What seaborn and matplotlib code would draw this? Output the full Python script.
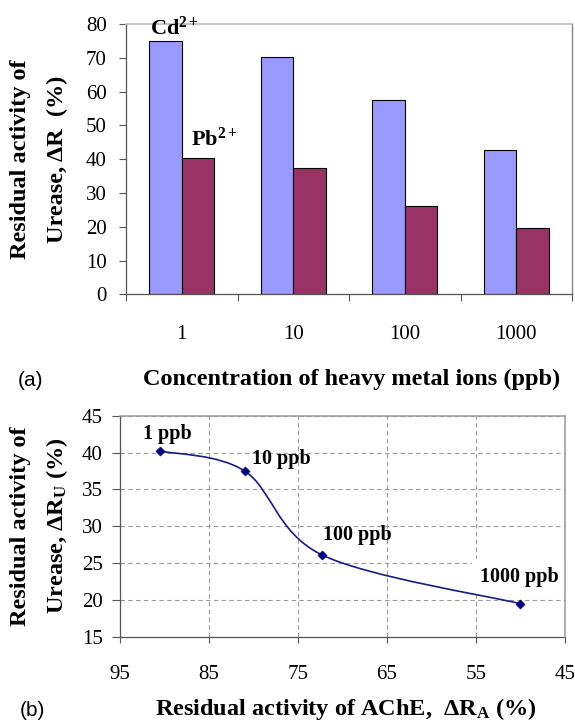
import matplotlib
matplotlib.use("Agg")
import matplotlib.pyplot as plt
import seaborn as sns
import pandas as pd
import numpy as np
from matplotlib.path import Path
from matplotlib.patches import PathPatch

# ---------------- data ----------------
conc_labels = ["1", "10", "100", "1000"]
ions = ["Cd", "Pb"]
cd_values = [75.0, 70.1, 57.4, 42.8]
pb_values = [40.2, 37.5, 26.1, 19.5]
bar_colors = ["#9999FF", "#993366"]

ache_values = [90.5, 81.0, 72.3, 50.1]
urease_values = [40.2, 37.5, 26.1, 19.5]
point_labels = ["1 ppb", "10 ppb", "100 ppb", "1000 ppb"]

top_yticks = list(range(0, 81, 10))
bot_xticks = [95, 85, 75, 65, 55, 45]
bot_yticks = [15, 20, 25, 30, 35, 40, 45]

# ---------------- style ----------------
plt.rcParams["font.family"] = ["Liberation Serif", "DejaVu Serif"]
plt.rcParams["mathtext.fontset"] = "custom"
plt.rcParams["mathtext.rm"] = "Liberation Serif:bold"
plt.rcParams["mathtext.it"] = "Liberation Serif:bold"
plt.rcParams["mathtext.bf"] = "Liberation Serif:bold"
plt.rcParams["mathtext.default"] = "rm"

W, H = 575, 721
fig = plt.figure(figsize=(W / 100, H / 100), dpi=100)
fig.patch.set_facecolor("white")


def fx(x):
    return x / W


def fy(y):
    return 1 - y / H


def rect(l, t, r, b):
    return [fx(l), fy(b), fx(r) - fx(l), fy(t) - fy(b)]


# ---------------- top: bar chart ----------------
ax1 = fig.add_axes(rect(126, 24, 572, 294.3))
df = pd.DataFrame({
    "conc": conc_labels * 2,
    "ion": [ions[0]] * 4 + [ions[1]] * 4,
    "val": cd_values + pb_values,
})
sns.barplot(data=df, x="conc", y="val", hue="ion", order=conc_labels,
            hue_order=ions, palette=bar_colors, width=0.58, saturation=1,
            edgecolor="black", linewidth=0.8, legend=False, ax=ax1)
ax1.set_xlim(-0.5, 3.5)
ax1.set_ylim(0, 80)
ax1.set_yticks(top_yticks)
ax1.set_xticks([-0.5, 0.5, 1.5, 2.5, 3.5], minor=True)
ax1.set_xlabel("")
ax1.set_ylabel("")
ax1.tick_params(axis="x", which="major", length=0, pad=22, labelsize=15)
ax1.tick_params(axis="x", which="minor", length=5, width=0.8, color="#555555",
                direction="out")
ax1.tick_params(axis="y", length=5, width=0.8, color="#555555",
                direction="out", pad=9, labelsize=15)
for s in ["left", "bottom"]:
    ax1.spines[s].set_color("#555555")
    ax1.spines[s].set_linewidth(0.9)
ax1.spines["top"].set_color("#bbbbbb")
ax1.spines["right"].set_color("#888888")
ax1.spines["top"].set_linewidth(1.2)
ax1.spines["right"].set_linewidth(1.0)

fig.text(fx(150), fy(35), r"Cd$^{2+}$", fontsize=16, weight="bold",
         ha="left", va="baseline")
fig.text(fx(191), fy(146), r"Pb$^{2+}$", fontsize=16, weight="bold",
         ha="left", va="baseline")

fig.text(fx(21), fy(159), "Residual activity of", rotation=90, fontsize=17.5,
         weight="bold", ha="center", va="center")
fig.text(fx(57), fy(159), "Urease, \u0394R  (%)", rotation=90, fontsize=17.5,
         weight="bold", ha="center", va="center")
fig.text(fx(352), fy(385), "Concentration of heavy metal ions (ppb)",
         fontsize=17.5, weight="bold", ha="center", va="baseline")
fig.text(fx(18), fy(386), "(a)", fontsize=15, family="Liberation Sans",
         ha="left", va="baseline")

# ---------------- bottom: line chart ----------------
ax2 = fig.add_axes(rect(120, 415.7, 565, 636.7))
ax2.set_xlim(95, 45)
ax2.set_ylim(15, 45)
ax2.set_xticks(bot_xticks)
ax2.set_yticks(bot_yticks)
ax2.grid(True, linestyle=(0, (4, 3)), color="#999999", linewidth=0.8)
ax2.set_axisbelow(True)

# smoothed line (Catmull-Rom -> cubic Bezier) through the data points
P = np.column_stack([ache_values, urease_values])
verts = [tuple(P[0])]
codes = [Path.MOVETO]
n = len(P)
for i in range(n - 1):
    p_prev = P[i - 1] if i > 0 else P[i]
    p_next2 = P[i + 2] if i + 2 < n else P[i + 1]
    c1 = P[i] + (P[i + 1] - p_prev) / 6.0
    c2 = P[i + 1] - (p_next2 - P[i]) / 6.0
    verts += [tuple(c1), tuple(c2), tuple(P[i + 1])]
    codes += [Path.CURVE4] * 3
ax2.add_patch(PathPatch(Path(verts, codes), facecolor="none",
                        edgecolor="#1a1a80", linewidth=1.2, zorder=6))
sns.scatterplot(x=ache_values, y=urease_values, marker="D", s=22,
                color="#000080", edgecolor="#000080", zorder=7, ax=ax2,
                legend=False)

label_offsets = [(5.4, 9.0, "center"), (5.4, 4.8, "left"),
                 (0.4, 10.6, "left"), (0, 15.8, "center")]
for (xv, yv, lab, (dx, dy, ha)) in zip(ache_values, urease_values,
                                       point_labels, label_offsets):
    kw = {}
    if lab == "1000 ppb":
        kw["bbox"] = dict(boxstyle="square,pad=0.4", fc="white", ec="none")
    ax2.annotate(lab, (xv, yv), xytext=(dx, dy), textcoords="offset points",
                 fontsize=14.5, weight="bold", ha=ha, va="baseline",
                 zorder=5, **kw)

ax2.tick_params(axis="x", length=4.5, width=0.8, color="#555555",
                direction="out", pad=16, labelsize=15)
ax2.tick_params(axis="y", length=5.5, width=0.8, color="#555555",
                direction="out", pad=7, labelsize=15)
for s in ["left", "bottom"]:
    ax2.spines[s].set_color("#555555")
    ax2.spines[s].set_linewidth(0.9)
for s in ["top", "right"]:
    ax2.spines[s].set_color("#999999")
    ax2.spines[s].set_linewidth(1.1)
    ax2.spines[s].set_zorder(8)

fig.text(fx(21), fy(526), "Residual activity of", rotation=90, fontsize=17.5,
         weight="bold", ha="center", va="center")
fig.text(fx(57), fy(526), "Urease, \u0394R$_{\\mathrm{U}}$ (%)", rotation=90,
         fontsize=17.5, weight="bold", ha="center", va="center")
fig.text(fx(346), fy(715), "Residual activity of AChE,  \u0394R$_{\\mathrm{A}}$ (%)",
         fontsize=17.5, weight="bold", ha="center", va="baseline")
fig.text(fx(20), fy(716), "(b)", fontsize=15, family="Liberation Sans",
         ha="left", va="baseline")

fig.savefig("out.png", dpi=100, facecolor="white")
